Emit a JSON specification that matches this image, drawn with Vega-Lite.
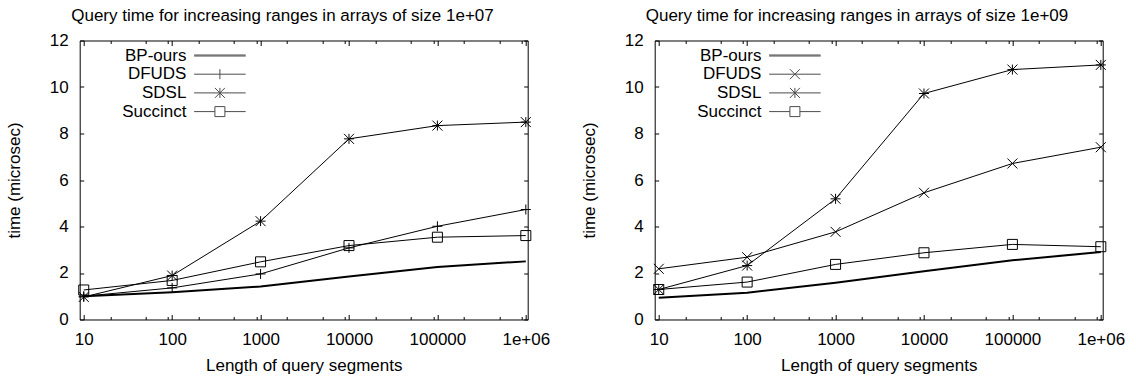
{
  "$schema": "https://vega.github.io/schema/vega-lite/v6.json",
  "padding": {"left": 4.7, "top": 6.5, "right": 0, "bottom": 0},
  "background": "white",
  "config": {
    "font": "Liberation Sans",
    "view": {"stroke": "black", "strokeWidth": 1},
    "axis": {"labelFont": "Liberation Sans", "labelFontSize": 17, "labelColor": "black", "titleFont": "Liberation Sans", "titleFontSize": 17, "titleFontWeight": "normal", "titleColor": "black", "tickColor": "black", "tickWidth": 1, "domain": false, "grid": false},
    "title": {"font": "Liberation Sans", "fontSize": 17, "fontWeight": "normal", "color": "black"},
    "legend": {"labelFont": "Liberation Sans", "labelFontSize": 17, "labelColor": "black"}
  },
  "datasets": {
    "d7": [
      {"series": "BP-ours", "len": 10, "time": 1.0},
      {"series": "BP-ours", "len": 100, "time": 1.17},
      {"series": "BP-ours", "len": 1000, "time": 1.42},
      {"series": "BP-ours", "len": 10000, "time": 1.85},
      {"series": "BP-ours", "len": 100000, "time": 2.26},
      {"series": "BP-ours", "len": 1000000, "time": 2.5},
      {"series": "DFUDS", "len": 10, "time": 1.0},
      {"series": "DFUDS", "len": 100, "time": 1.36},
      {"series": "DFUDS", "len": 1000, "time": 1.96},
      {"series": "DFUDS", "len": 10000, "time": 3.08},
      {"series": "DFUDS", "len": 100000, "time": 4.01},
      {"series": "DFUDS", "len": 1000000, "time": 4.73},
      {"series": "SDSL", "len": 10, "time": 0.97},
      {"series": "SDSL", "len": 100, "time": 1.89},
      {"series": "SDSL", "len": 1000, "time": 4.23},
      {"series": "SDSL", "len": 10000, "time": 7.77},
      {"series": "SDSL", "len": 100000, "time": 8.34},
      {"series": "SDSL", "len": 1000000, "time": 8.49},
      {"series": "Succinct", "len": 10, "time": 1.27},
      {"series": "Succinct", "len": 100, "time": 1.68},
      {"series": "Succinct", "len": 1000, "time": 2.48},
      {"series": "Succinct", "len": 10000, "time": 3.18},
      {"series": "Succinct", "len": 100000, "time": 3.54},
      {"series": "Succinct", "len": 1000000, "time": 3.61}
    ],
    "d9": [
      {"series": "BP-ours", "len": 10, "time": 0.94},
      {"series": "BP-ours", "len": 100, "time": 1.15},
      {"series": "BP-ours", "len": 1000, "time": 1.58},
      {"series": "BP-ours", "len": 10000, "time": 2.08},
      {"series": "BP-ours", "len": 100000, "time": 2.55},
      {"series": "BP-ours", "len": 1000000, "time": 2.9},
      {"series": "DFUDS", "len": 10, "time": 2.18},
      {"series": "DFUDS", "len": 100, "time": 2.68},
      {"series": "DFUDS", "len": 1000, "time": 3.77},
      {"series": "DFUDS", "len": 10000, "time": 5.45},
      {"series": "DFUDS", "len": 100000, "time": 6.71},
      {"series": "DFUDS", "len": 1000000, "time": 7.41},
      {"series": "SDSL", "len": 10, "time": 1.29},
      {"series": "SDSL", "len": 100, "time": 2.32},
      {"series": "SDSL", "len": 1000, "time": 5.19},
      {"series": "SDSL", "len": 10000, "time": 9.72},
      {"series": "SDSL", "len": 100000, "time": 10.75},
      {"series": "SDSL", "len": 1000000, "time": 10.95},
      {"series": "Succinct", "len": 10, "time": 1.29},
      {"series": "Succinct", "len": 100, "time": 1.61},
      {"series": "Succinct", "len": 1000, "time": 2.37},
      {"series": "Succinct", "len": 10000, "time": 2.87},
      {"series": "Succinct", "len": 100000, "time": 3.23},
      {"series": "Succinct", "len": 1000000, "time": 3.13}
    ]
  },
  "hconcat": [
    {
      "width": 448,
      "height": 279,
      "data": {"name": "d7"},
      "title": {"text": "Query time for increasing ranges in arrays of size 1e+07", "anchor": "middle", "frame": "group", "dx": -21.2, "offset": -6.6, "baseline": "alphabetic"},
      "layer": [
        {
          "transform": [{"filter": "datum.series === 'BP-ours'"}],
          "mark": {"type": "line", "color": "black", "strokeWidth": 2},
          "encoding": {
            "x": {"field": "len", "type": "quantitative", "scale": {"type": "log", "domain": [9, 1050000], "nice": false},
              "axis": {"orient": "bottom", "values": [10, 20, 50, 90, 100, 200, 500, 900, 1000, 2000, 5000, 9000, 10000, 20000, 50000, 90000, 100000, 200000, 500000, 900000, 1000000],
                "labelExpr": "datum.value == 10 ? '10' : datum.value == 100 ? '100' : datum.value == 1000 ? '1000' : datum.value == 10000 ? '10000' : datum.value == 100000 ? '100000' : datum.value == 1000000 ? '1e+06' : ''",
                "tickSize": {"condition": {"test": "indexof([10,100,1000,10000,100000,1000000], datum.value) >= 0", "value": -5}, "value": -3},
                "labelPadding": 30.5, "labelBaseline": "alphabetic", "labelOverlap": false, "labelFlush": false,
                "title": "Length of query segments", "titleY": 51, "titleBaseline": "alphabetic"}},
            "y": {"field": "time", "type": "quantitative", "scale": {"domain": [0, 12], "nice": false, "zero": true},
              "axis": {"orient": "left", "values": [0, 2, 4, 6, 8, 10, 12], "tickSize": -4, "labelPadding": 15.5, "labelBaseline": "middle", "labelOverlap": false, "labelFlush": false,
                "title": "time (microsec)", "titleX": -65, "titleY": 139.5, "titleAngle": -90, "titleBaseline": "middle", "titleAlign": "center"}},
            "detail": {"field": "series"}
          }
        },
        {
          "transform": [{"filter": "datum.series !== 'BP-ours'"}],
          "mark": {"type": "line", "color": "black", "strokeWidth": 1},
          "encoding": {
            "x": {"field": "len", "type": "quantitative", "scale": {"type": "log", "domain": [9, 1050000], "nice": false}, "axis": null},
            "y": {"field": "time", "type": "quantitative", "scale": {"domain": [0, 12], "nice": false}, "axis": null},
            "detail": {"field": "series"}
          }
        },
        {
          "transform": [{"filter": "datum.series !== 'BP-ours'"}],
          "mark": {"type": "point", "filled": false, "color": "black", "size": 100, "strokeWidth": 1, "opacity": 1},
          "encoding": {
            "x": {"field": "len", "type": "quantitative", "scale": {"type": "log", "domain": [9, 1050000], "nice": false}, "axis": null},
            "y": {"field": "time", "type": "quantitative", "scale": {"domain": [0, 12], "nice": false}, "axis": null},
            "shape": {"field": "series", "type": "nominal", "scale": {"domain": ["DFUDS", "SDSL", "Succinct"], "range": ["M-1,0L1,0M0,-1L0,1", "M-1,0L1,0M0,-1L0,1M-1,-1L1,1M-1,1L1,-1", "M-1,-1L1,-1L1,1L-1,1Z"]}, "legend": null}
          }
        },
        {
          "transform": [{"filter": "datum.len < 0"}],
          "mark": {"type": "point", "filled": false, "color": "black", "size": 100, "strokeWidth": 1},
          "encoding": {
            "x": {"field": "len", "type": "quantitative", "scale": {"type": "log", "domain": [9, 1050000], "nice": false}, "axis": null},
            "y": {"field": "time", "type": "quantitative", "scale": {"domain": [0, 12], "nice": false}, "axis": null},
            "shape": {"field": "series", "type": "nominal", "scale": {"domain": ["BP-ours", "DFUDS", "SDSL", "Succinct"], "range": ["M-5.15,-0.1L5.15,-0.1M-5.15,0.1L5.15,0.1", "M-5.15,0L5.15,0M0,-1L0,1", "M-5.15,0L5.15,0M0,-1L0,1M-1,-1L1,1M-1,1L1,-1", "M-5.15,0L-1,0M1,0L5.15,0M-1,-1L1,-1L1,1L-1,1Z"]},
              "legend": {"orient": "none", "legendX": 131.7, "legendY": 6.5, "title": null, "labelAlign": "right", "labelOffset": -42, "symbolSize": 100, "symbolStrokeWidth": 1, "rowPadding": 0.7, "padding": 0}}
          }
        },
        {
          "mark": {"type": "point", "opacity": 0},
          "encoding": {
            "x": {"field": "len", "type": "quantitative", "scale": {"type": "log", "domain": [9, 1050000], "nice": false},
              "axis": {"orient": "top", "values": [10, 20, 50, 90, 100, 200, 500, 900, 1000, 2000, 5000, 9000, 10000, 20000, 50000, 90000, 100000, 200000, 500000, 900000, 1000000], "labels": false, "title": null,
                "tickSize": {"condition": {"test": "indexof([10,100,1000,10000,100000,1000000], datum.value) >= 0", "value": -5}, "value": -3}}},
            "y": {"field": "time", "type": "quantitative", "scale": {"domain": [0, 12], "nice": false},
              "axis": {"orient": "right", "values": [0, 2, 4, 6, 8, 10, 12], "tickSize": -4, "labels": false, "title": null}}
          }
        }
      ],
      "resolve": {"scale": {"x": "independent", "y": "independent", "shape": "independent"}, "axis": {"x": "independent", "y": "independent"}}
    },
    {
      "width": 448,
      "height": 279,
      "data": {"name": "d9"},
      "title": {"text": "Query time for increasing ranges in arrays of size 1e+09", "anchor": "middle", "frame": "group", "dx": -21.7, "offset": -6.6, "baseline": "alphabetic"},
      "layer": [
        {
          "transform": [{"filter": "datum.series === 'BP-ours'"}],
          "mark": {"type": "line", "color": "black", "strokeWidth": 2},
          "encoding": {
            "x": {"field": "len", "type": "quantitative", "scale": {"type": "log", "domain": [9, 1050000], "nice": false},
              "axis": {"orient": "bottom", "values": [10, 20, 50, 90, 100, 200, 500, 900, 1000, 2000, 5000, 9000, 10000, 20000, 50000, 90000, 100000, 200000, 500000, 900000, 1000000],
                "labelExpr": "datum.value == 10 ? '10' : datum.value == 100 ? '100' : datum.value == 1000 ? '1000' : datum.value == 10000 ? '10000' : datum.value == 100000 ? '100000' : datum.value == 1000000 ? '1e+06' : ''",
                "tickSize": {"condition": {"test": "indexof([10,100,1000,10000,100000,1000000], datum.value) >= 0", "value": -5}, "value": -3},
                "labelPadding": 30.5, "labelBaseline": "alphabetic", "labelOverlap": false, "labelFlush": false,
                "title": "Length of query segments", "titleY": 51, "titleBaseline": "alphabetic"}},
            "y": {"field": "time", "type": "quantitative", "scale": {"domain": [0, 12], "nice": false, "zero": true},
              "axis": {"orient": "left", "values": [0, 2, 4, 6, 8, 10, 12], "tickSize": -4, "labelPadding": 15.5, "labelBaseline": "middle", "labelOverlap": false, "labelFlush": false,
                "title": "time (microsec)", "titleX": -65, "titleY": 139.5, "titleAngle": -90, "titleBaseline": "middle", "titleAlign": "center"}},
            "detail": {"field": "series"}
          }
        },
        {
          "transform": [{"filter": "datum.series !== 'BP-ours'"}],
          "mark": {"type": "line", "color": "black", "strokeWidth": 1},
          "encoding": {
            "x": {"field": "len", "type": "quantitative", "scale": {"type": "log", "domain": [9, 1050000], "nice": false}, "axis": null},
            "y": {"field": "time", "type": "quantitative", "scale": {"domain": [0, 12], "nice": false}, "axis": null},
            "detail": {"field": "series"}
          }
        },
        {
          "transform": [{"filter": "datum.series !== 'BP-ours'"}],
          "mark": {"type": "point", "filled": false, "color": "black", "size": 100, "strokeWidth": 1, "opacity": 1},
          "encoding": {
            "x": {"field": "len", "type": "quantitative", "scale": {"type": "log", "domain": [9, 1050000], "nice": false}, "axis": null},
            "y": {"field": "time", "type": "quantitative", "scale": {"domain": [0, 12], "nice": false}, "axis": null},
            "shape": {"field": "series", "type": "nominal", "scale": {"domain": ["DFUDS", "SDSL", "Succinct"], "range": ["M-1,-1L1,1M-1,1L1,-1", "M-1,0L1,0M0,-1L0,1M-1,-1L1,1M-1,1L1,-1", "M-1,-1L1,-1L1,1L-1,1Z"]}, "legend": null}
          }
        },
        {
          "transform": [{"filter": "datum.len < 0"}],
          "mark": {"type": "point", "filled": false, "color": "black", "size": 100, "strokeWidth": 1},
          "encoding": {
            "x": {"field": "len", "type": "quantitative", "scale": {"type": "log", "domain": [9, 1050000], "nice": false}, "axis": null},
            "y": {"field": "time", "type": "quantitative", "scale": {"domain": [0, 12], "nice": false}, "axis": null},
            "shape": {"field": "series", "type": "nominal", "scale": {"domain": ["BP-ours", "DFUDS", "SDSL", "Succinct"], "range": ["M-5.15,-0.1L5.15,-0.1M-5.15,0.1L5.15,0.1", "M-5.15,0L5.15,0M-1,-1L1,1M-1,1L1,-1", "M-5.15,0L5.15,0M0,-1L0,1M-1,-1L1,1M-1,1L1,-1", "M-5.15,0L-1,0M1,0L5.15,0M-1,-1L1,-1L1,1L-1,1Z"]},
              "legend": {"orient": "none", "legendX": 131.7, "legendY": 6.5, "title": null, "labelAlign": "right", "labelOffset": -42, "symbolSize": 100, "symbolStrokeWidth": 1, "rowPadding": 0.7, "padding": 0}}
          }
        },
        {
          "mark": {"type": "point", "opacity": 0},
          "encoding": {
            "x": {"field": "len", "type": "quantitative", "scale": {"type": "log", "domain": [9, 1050000], "nice": false},
              "axis": {"orient": "top", "values": [10, 20, 50, 90, 100, 200, 500, 900, 1000, 2000, 5000, 9000, 10000, 20000, 50000, 90000, 100000, 200000, 500000, 900000, 1000000], "labels": false, "title": null,
                "tickSize": {"condition": {"test": "indexof([10,100,1000,10000,100000,1000000], datum.value) >= 0", "value": -5}, "value": -3}}},
            "y": {"field": "time", "type": "quantitative", "scale": {"domain": [0, 12], "nice": false},
              "axis": {"orient": "right", "values": [0, 2, 4, 6, 8, 10, 12], "tickSize": -4, "labels": false, "title": null}}
          }
        }
      ],
      "resolve": {"scale": {"x": "independent", "y": "independent", "shape": "independent"}, "axis": {"x": "independent", "y": "independent"}}
    }
  ],
  "bounds": "flush",
  "spacing": 127
}
